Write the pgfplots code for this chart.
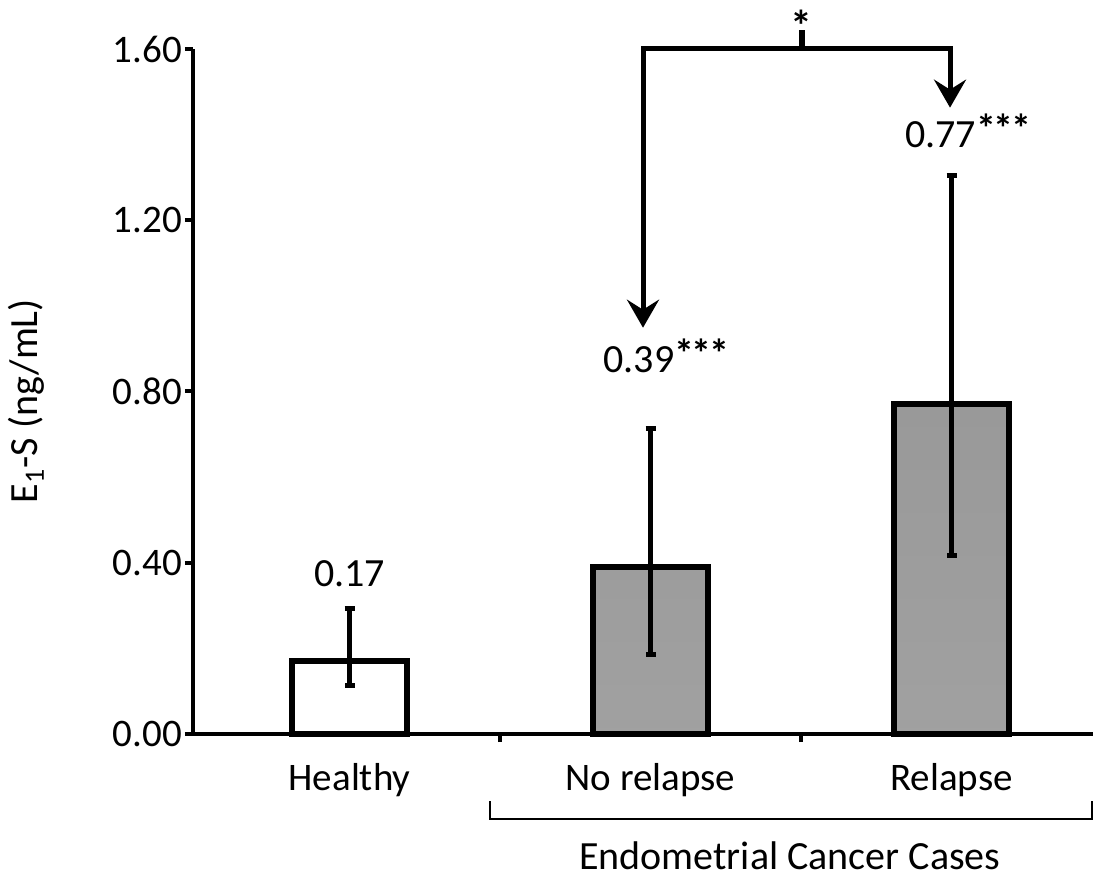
\documentclass[border=0pt]{standalone}
\usepackage{pgfplots}
\pgfplotsset{compat=1.18}
\usepackage{pgfplotstable}
\usepackage{fontspec}
\setmainfont{Carlito}
\usetikzlibrary{arrows.meta,calc}

\definecolor{bartop}{gray}{0.60}
\definecolor{barmid}{gray}{0.69}
\definecolor{barbot}{gray}{0.63}

% mean, upper and lower error extent
\pgfplotstableread{
x y ep em
0 0.17 0.124 0.056
}\healthy
\pgfplotstableread{
x y ep em
1 0.39 0.323 0.205
2 0.77 0.534 0.354
}\cases

\newcommand{\stars}{\raisebox{0.14em}{\bfseries *\kern-0.06em*\kern-0.06em*}}

\begin{document}
\begin{tikzpicture}
\begin{axis}[
  scale only axis, width=450pt, height=342.5pt,
  xmin=-0.52, xmax=2.47, ymin=0, ymax=1.6,
  axis lines*=left,
  axis line style={line width=2pt},
  ytick={0,0.4,0.8,1.2,1.6},
  yticklabel style={xshift=2pt, /pgf/number format/.cd, fixed, fixed zerofill, precision=2, assume math mode=true},
  xtick={0.5,1.5}, xticklabels={},
  extra x ticks={0,1,2},
  extra x tick labels={Healthy,No relapse,Relapse},
  extra x tick style={major tick length=0pt},
  xticklabel style={yshift=-11pt},
  tick align=outside, major tick length=4pt,
  tick style={line width=2pt, black},
  ticklabel style={font=\fontsize{19.5}{23}\selectfont},
  ylabel={E\textsubscript{1}-S (ng/mL)},
  ylabel style={at={(axis description cs:-0.185,0.486)}, anchor=center, font=\fontsize{20}{24}\selectfont},
  ybar, bar width=0.385, bar shift=0pt,
  clip=false,
]
\addplot[ybar, fill=white, draw=black, line width=3pt,
  error bars/.cd, y dir=both, y explicit,
  error bar style={line width=2.5pt},
  error mark options={rotate=90, line width=2.5pt, mark size=2.5pt}]
  table[x=x, y=y, y error plus=ep, y error minus=em]{\healthy};
\addplot[ybar, draw=black, line width=3pt,
  top color=bartop, middle color=barmid, bottom color=barbot,
  error bars/.cd, y dir=both, y explicit,
  error bar style={line width=2.5pt},
  error mark options={rotate=90, line width=2.5pt, mark size=2.5pt}]
  table[x=x, y=y, y error plus=ep, y error minus=em]{\cases};

\coordinate (sw) at (rel axis cs:0,0);
\coordinate (ne) at (rel axis cs:1,1);

% value labels
\begin{scope}[font=\fontsize{20}{24}\selectfont]
\node[inner sep=0pt] at (axis cs:0,0.374) {0.17};
\node[inner sep=0pt, anchor=west] at (axis cs:0.842,0.883) {0.39\stars};
\node[inner sep=0pt, anchor=west] at (axis cs:1.845,1.409) {0.77\stars};
\end{scope}

% significance bracket
\draw[line width=2.5pt, line join=miter,
  {Stealth[length=14pt, width=16pt, inset=5pt]}-{Stealth[length=14pt, width=16pt, inset=5pt]}]
  (axis cs:0.975,0.949) -- (axis cs:0.975,1.6) -- (axis cs:1.995,1.6) -- (axis cs:1.995,1.463);
\draw[line width=3pt] (axis cs:1.503,1.6) -- (axis cs:1.503,1.645);
\node[inner sep=0pt, font=\fontsize{22}{26}\selectfont\bfseries] at (axis cs:1.503,1.655) {*};

% group bracket
\draw[line width=1pt] (axis cs:0.467,-0.157) -- (axis cs:0.467,-0.199)
  -- (axis cs:2.467,-0.199) -- (axis cs:2.467,-0.157);
\node[inner sep=0pt, font=\fontsize{20}{24}\selectfont] at (axis cs:1.463,-0.285) {Endometrial Cancer Cases};
\end{axis}
\pgfresetboundingbox
\path ($(sw)+(-96.5pt,-72pt)$) rectangle ($(ne)+(0pt,24.5pt)$);
\end{tikzpicture}
\end{document}
